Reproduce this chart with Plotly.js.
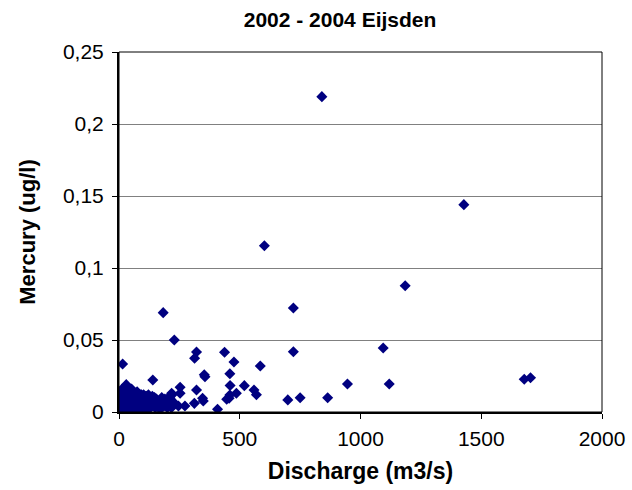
<!DOCTYPE html>
<html>
<head>
<meta charset="utf-8">
<script src="https://cdn.plot.ly/plotly-3.0.1.min.js"></script>
<style>html,body{margin:0;padding:0;background:#fff;}#chart{width:632px;height:490px;}</style>
</head>
<body>
<div id="chart"></div>
<script>
// Discharge (m3/s)
const discharge = [
  840, 1428, 602, 1185, 722, 183, 229, 1094, 722, 321, 313, 437, 15, 476, 585,
  353, 356, 459, 140, 1678, 1704, 946, 1119, 460, 519, 559, 569, 486, 459, 456,
  446, 699, 750, 864, 408, 321, 253, 253, 349, 346, 312, 273, 246, 218, 211, 199,
  5, 8, 10, 12, 15, 18, 20, 22, 25, 27, 30, 32, 35, 38, 40, 42, 45, 48, 50, 52,
  55, 58, 60, 63, 65, 68, 70, 73, 75, 78, 80, 83, 85, 88, 90, 93, 95, 98, 100,
  103, 106, 110, 113, 116, 120, 124, 128, 132, 136, 140, 145, 150, 155, 160,
  165, 170, 175, 180, 185, 190, 195, 200, 205, 210, 215, 220,
  3, 7, 13, 17, 23, 28, 33, 37, 43, 47, 53, 57, 62, 67, 72, 77, 82, 87, 92, 97,
  102, 108, 115, 122, 130, 138, 147, 157, 167, 177, 187, 197, 207, 217, 225
];
// Mercury (ug/l)
const mercury = [
  0.219, 0.144, 0.1155, 0.0877, 0.0722, 0.069, 0.050, 0.0444, 0.0418, 0.0417, 0.0373, 0.0415, 0.0333, 0.0347, 0.0319,
  0.0259, 0.0245, 0.0266, 0.0222, 0.0227, 0.0238, 0.0194, 0.0194, 0.0184, 0.0183, 0.0153, 0.012, 0.013, 0.0118, 0.0095,
  0.0088, 0.0084, 0.0099, 0.0099, 0.0019, 0.0153, 0.0172, 0.013, 0.0076, 0.0095, 0.006, 0.0042, 0.0042, 0.013, 0.0095, 0.0072,
  0.002, 0.006, 0.011, 0.004, 0.009, 0.014, 0.001, 0.007, 0.012, 0.017, 0.019, 0.003, 0.010, 0.015, 0.005, 0.008, 0.013, 0.002, 0.011, 0.016,
  0.006, 0.009, 0.003, 0.012, 0.007, 0.001, 0.010, 0.005, 0.014, 0.008, 0.002, 0.011, 0.006, 0.009, 0.004, 0.012, 0.007, 0.001, 0.010,
  0.005, 0.008, 0.003, 0.011, 0.006, 0.009, 0.002, 0.007, 0.010, 0.004, 0.008, 0.006, 0.003, 0.009, 0.005,
  0.007, 0.002, 0.008, 0.006, 0.004, 0.009, 0.007, 0.003, 0.010, 0.005, 0.008, 0.012,
  0.008, 0.013, 0.016, 0.005, 0.010, 0.004, 0.014, 0.007, 0.011, 0.016, 0.004, 0.012, 0.009, 0.013, 0.003, 0.011, 0.007, 0.012, 0.008, 0.005,
  0.012, 0.011, 0.004, 0.012, 0.005, 0.011, 0.010, 0.007, 0.004, 0.010, 0.008, 0.005, 0.006, 0.003, 0.007
];
const xTicks = [0, 500, 1000, 1500, 2000];
const yTicks = [0, 0.05, 0.1, 0.15, 0.2, 0.25];

const font = 'Liberation Sans, Arial, sans-serif';
const trace = {
  type: 'scatter', mode: 'markers', x: discharge, y: mercury,
  marker: {symbol: 'diamond', size: 8.5, color: '#000080', line: {width: 0}},
  hoverinfo: 'none'
};
const layout = {
  width: 632, height: 490,
  margin: {l: 119, r: 30, t: 52, b: 78},
  paper_bgcolor: '#fff', plot_bgcolor: '#fff',
  separators: ',.',
  showlegend: false,
  font: {family: font, size: 21, color: '#000'},
  title: {text: '<b>2002 - 2004 Eijsden</b>', x: 0.538, xanchor: 'center', y: 0.959, yanchor: 'middle',
          font: {family: font, size: 21, color: '#000'}},
  xaxis: {
    range: [0, 2000], tickvals: xTicks, ticks: 'outside', ticklen: 5, tickwidth: 1, tickcolor: '#000',
    ticklabelstandoff: 2,
    showgrid: false, zeroline: false, showline: true, linecolor: '#000', linewidth: 2,
    tickfont: {family: font, size: 21, color: '#000'},
    title: {text: '<b>Discharge (m3/s)</b>', font: {family: font, size: 23, color: '#000'}, standoff: 14}
  },
  yaxis: {
    range: [0, 0.25], tickvals: yTicks, ticks: 'outside', ticklen: 5, tickwidth: 1, tickcolor: '#000',
    ticklabelstandoff: 4,
    showgrid: true, gridcolor: '#808080', gridwidth: 1, zeroline: false,
    showline: true, linecolor: '#000', linewidth: 2,
    tickfont: {family: font, size: 21, color: '#000'},
    title: {text: '<b>Mercury (ug/l)</b>', font: {family: font, size: 22, color: '#000'}, standoff: 21}
  },
  shapes: [{type: 'rect', xref: 'paper', yref: 'paper', x0: 0, x1: 1, y0: 0, y1: 1,
            line: {color: '#000', width: 1}, layer: 'above'}]
};
Plotly.newPlot('chart', [trace], layout, {displayModeBar: false, staticPlot: true});
</script>
</body>
</html>
